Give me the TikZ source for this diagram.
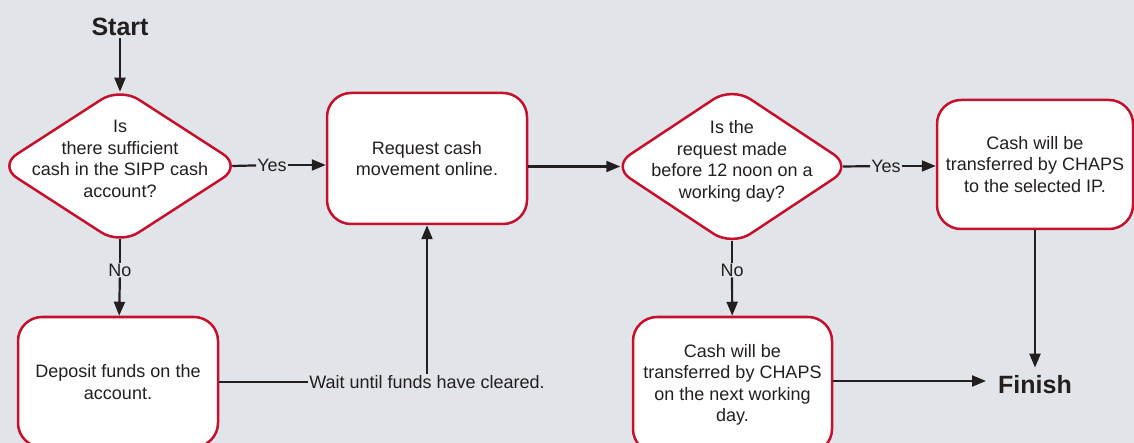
\documentclass[tikz,border=0pt]{standalone}
\usepackage{fontspec}
\setmainfont{Liberation Sans}
\usetikzlibrary{shapes.geometric,arrows.meta}
\definecolor{bggrey}{HTML}{E1E4E8}
\definecolor{boxred}{HTML}{C5112E}
\definecolor{ink}{HTML}{231F20}
\tikzset{
  stepbox/.style={draw=boxred,fill=white,line width=2.5pt,rounded corners=24pt,minimum width=200pt,inner sep=0pt,align=center,text=ink,font=\fontsize{18}{21.5}\selectfont},
  decision/.style={diamond,draw=boxred,fill=white,line width=2.5pt,rounded corners=22pt,inner sep=0pt},
  txt/.style={align=center,text=ink,font=\fontsize{18}{21.5}\selectfont,inner sep=1pt},
  ends/.style={text=ink,font=\fontsize{25}{30}\selectfont\bfseries,inner sep=2pt},
  line/.style={draw=ink,line width=2.2pt},
  arr/.style={line,-{Triangle[length=14pt,width=11pt]}},
}
\begin{document}
\begin{tikzpicture}[x=1pt,y=-1pt]
    \fill[bggrey] (0,0) rectangle (1134,443); %fond
    \useasboundingbox (0,0) rectangle (1134,443);
    \clip (0,0) rectangle (1134,443);
    \node[ends] (start) at (120,27) {Start};
    \node[decision,minimum width=244pt,minimum height=158pt] (q1) at (120,166) {}; %cash?
    \node[txt] (q1t) at (120,159) {Is\\there sufficient\\cash in the SIPP cash\\account?};
    \node[stepbox,minimum height=131pt] (move) at (427,158.5) {Request cash\\movement online.};
    \node[decision,minimum width=241pt,minimum height=160pt] (q2) at (732,166.5) {}; %noon?
    \node[txt] (q2t) at (732,161.5) {Is the\\request made\\before 12 noon on a\\working day?};
    \node[stepbox,minimum width=196pt,minimum height=129pt] (chaps) at (1035,164.5) {Cash will be\\transferred by CHAPS\\to the selected IP.};
    \node[stepbox,minimum height=130pt] (deposit) at (118,382) {Deposit funds on the\\account.};
    \node[stepbox,minimum width=199pt,minimum height=136pt] (nextday) at (732.5,385) {Cash will be\\transferred by CHAPS\\on the next working\\day.};
    \node[ends] (finish) at (1035,385) {Finish};
    \node[txt] (yes1) at (272,165) {Yes};
    \node[txt] (yes2) at (886,166) {Yes};
    \node[txt] (no1) at (120,270) {No};
    \node[txt] (no2) at (732,270) {No};
    \node[txt] (wait) at (427,382) {Wait until funds have cleared.};
    % fleches
    \draw[arr] (start) -- ([yshift=-6pt]q1.north);
    \draw[line] ([xshift=-11pt]q1.east) -- (yes1);
    \draw[arr] (yes1) -- (move.west |- yes1);
    \draw[line] ([yshift=7pt]q1.south) -- (no1);
    \draw[arr] (no1) -- (deposit);
    \draw[line] (deposit) -- (wait);
    \draw[arr] (wait) -- (move);
    \draw[arr] (move.east |- q2.west) -- ([xshift=10pt]q2.west);
    \draw[line] ([xshift=-11pt]q2.east) -- (yes2);
    \draw[arr] (yes2) -- (chaps.west |- yes2);
    \draw[line] ([yshift=7pt]q2.south) -- (no2);
    \draw[arr] (no2) -- (nextday);
    \draw[arr,shorten >=6pt] (chaps) -- (finish);
    \draw[arr,shorten >=10pt] (nextday.east |- 0,381) -- (finish.west |- 0,381);
  \end{tikzpicture}
\end{document}
